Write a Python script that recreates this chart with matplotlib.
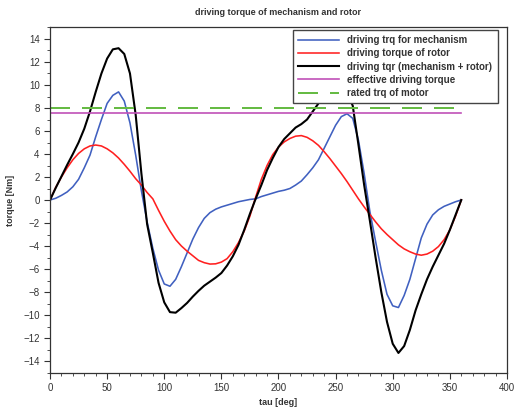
import numpy as np
import matplotlib
matplotlib.use("Agg")
import matplotlib.pyplot as plt
from matplotlib.ticker import MultipleLocator

plt.rcParams['font.family'] = ['Liberation Sans', 'DejaVu Sans']

# angle in degrees (5 deg steps)
tau = list(range(0, 365, 5))

# driving torque for mechanism [Nm]
trq_mech = [0.0, 0.15, 0.4, 0.7, 1.15, 1.8, 2.8, 3.9, 5.5, 7.0,
            8.4, 9.1, 9.4, 8.6, 6.7, 3.9, 0.8, -1.9, -4.2, -6.1,
            -7.3, -7.5, -6.9, -5.8, -4.6, -3.4, -2.4, -1.6, -1.1, -0.8,
            -0.6, -0.45, -0.3, -0.15, -0.05, 0.05, 0.1, 0.3, 0.45, 0.6,
            0.75, 0.85, 1.0, 1.3, 1.65, 2.2, 2.8, 3.5, 4.5, 5.5,
            6.5, 7.25, 7.5, 7.1, 5.2, 2.3, -1.0, -3.6, -6.1, -8.2,
            -9.2, -9.35, -8.3, -6.9, -5.1, -3.3, -2.1, -1.3, -0.85, -0.55,
            -0.35, -0.15, 0.0]

# driving torque of rotor [Nm]
trq_rotor = [0.0, 1.1, 2.0, 2.8, 3.5, 4.05, 4.45, 4.7, 4.78, 4.7,
             4.45, 4.1, 3.65, 3.1, 2.5, 1.85, 1.3, 0.65, 0.1, -0.9,
             -1.85, -2.7, -3.45, -4.0, -4.45, -4.85, -5.25, -5.45, -5.57, -5.55,
             -5.4, -5.1, -4.5, -3.7, -2.7, -1.4, 0.25, 1.8, 3.0, 3.95,
             4.6, 5.05, 5.35, 5.55, 5.6, 5.45, 5.15, 4.75, 4.2, 3.6,
             2.95, 2.3, 1.6, 0.85, 0.1, -0.6, -1.25, -1.9, -2.5, -3.0,
             -3.45, -3.9, -4.25, -4.5, -4.7, -4.8, -4.7, -4.45, -4.05, -3.45,
             -2.6, -1.4, 0.0]

# total driving torque (mechanism + rotor) [Nm]
trq_total = [0.0, 1.05, 2.05, 3.05, 4.0, 5.0, 6.2, 7.7, 9.4, 11.0,
             12.3, 13.1, 13.2, 12.7, 11.0, 7.4, 2.3, -2.1, -4.6, -7.2,
             -8.9, -9.75, -9.8, -9.4, -8.95, -8.4, -7.9, -7.45, -7.1, -6.75,
             -6.35, -5.7, -4.9, -3.9, -2.6, -1.2, 0.1, 1.3, 2.6, 3.65,
             4.6, 5.3, 5.8, 6.3, 6.6, 7.0, 7.7, 8.4, 8.9, 9.4,
             9.7, 9.7, 9.3, 8.2, 4.8, 1.3, -1.8, -5.0, -8.0, -10.6,
             -12.5, -13.3, -12.7, -11.3, -9.6, -8.2, -6.9, -5.8, -4.8, -3.8,
             -2.6, -1.3, 0.0]

trq_effective = 7.6
trq_rated = 8.0

fig = plt.figure(figsize=(5.14, 4.08), dpi=100)
ax = fig.add_axes([0.0973, 0.087, 0.889, 0.8456])

ax.plot(tau, trq_mech, color='#4060c0', lw=1.15, label='driving trq for mechanism')
ax.plot(tau, trq_rotor, color='#ff2020', lw=1.15, label='driving torque of rotor')
ax.plot(tau, trq_total, color='black', lw=1.5, label='driving tqr (mechanism + rotor)')
ax.plot([tau[0], tau[-1]], [trq_effective] * 2, color='#c050b8', lw=1.2,
        label='effective driving torque')
ax.plot([tau[0], tau[-1]], [trq_rated] * 2, color='#66bb44', lw=1.44,
        dashes=(10, 6), label='rated trq of motor')

ax.set_xlim(0, 400)
ax.set_ylim(-15, 15)
ax.xaxis.set_major_locator(MultipleLocator(50))
ax.xaxis.set_minor_locator(MultipleLocator(10))
ax.yaxis.set_major_locator(MultipleLocator(2))
ax.yaxis.set_minor_locator(MultipleLocator(1))
ax.tick_params(which='both', direction='out', top=False, right=False,
               labelsize=7, colors='#333333')
ax.tick_params(which='major', length=4)
ax.tick_params(which='minor', length=2.5)
for s in ax.spines.values():
    s.set_color('#333333')
    s.set_linewidth(0.9)

ax.set_title('driving torque of mechanism and rotor', fontsize=6.5,
             fontweight='bold', color='#333333', pad=9)
ax.set_xlabel('tau [deg]', fontsize=6.5, fontweight='bold', color='#333333', labelpad=4)
ax.set_ylabel('torque [Nm]', fontsize=6.5, fontweight='bold', color='#333333', labelpad=6)

leg = ax.legend(loc='upper right', bbox_to_anchor=(0.98, 0.993), fontsize=7,
                fancybox=False, framealpha=1, edgecolor='#444444',
                handlelength=4.2, labelspacing=0.33, borderpad=0.55,
                handletextpad=0.9, borderaxespad=0)
leg.get_frame().set_linewidth(1.0)
for t in leg.get_texts():
    t.set_fontweight('bold')
    t.set_color('#333333')

fig.savefig('out.png', dpi=100)
